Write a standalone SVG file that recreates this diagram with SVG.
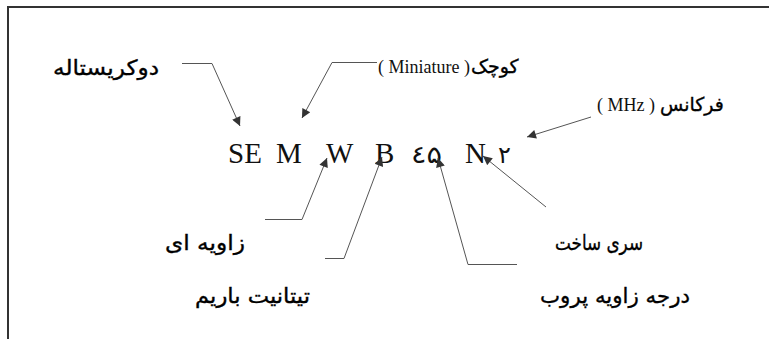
<svg xmlns="http://www.w3.org/2000/svg" width="769" height="339" viewBox="0 0 769 339">
<style>
.fa{font-family:"DejaVu Sans","Noto Sans",sans-serif;font-size:21px;fill:#000;stroke:#000;stroke-width:0.35}
.lat{font-family:"Liberation Serif","Times New Roman","Tinos","DejaVu Serif",serif;font-size:18px;fill:#111}
.big{font-family:"Liberation Serif","Times New Roman","Tinos","DejaVu Serif",serif;font-size:29px;fill:#111}
.dig{font-family:"DejaVu Sans",sans-serif;font-size:24px;fill:#111}
.ln{fill:none;stroke:#555;stroke-width:1}
</style>
<defs>
<marker id="arr" viewBox="0 0 10 10" refX="10" refY="5" markerWidth="11" markerHeight="9" markerUnits="userSpaceOnUse" orient="auto">
<path d="M0,0 L10,5 L0,10 z" fill="#333"/>
</marker>
</defs>
<rect width="769" height="339" fill="#fff"/>
<g id="frame">
<path d="M8,339 V7 H769" fill="none" stroke="#333" stroke-width="2"/>
</g>
<g id="code">
<text class="big" x="228" y="163">SE</text>
<text class="big" x="276" y="163">M</text>
<text class="big" x="326" y="163">W</text>
<text class="big" x="375" y="163">B</text>
<text class="dig" x="411" y="163" textLength="31" lengthAdjust="spacingAndGlyphs">٤۵</text>
<text class="big" x="465" y="163">N</text>
<text class="dig" x="498" y="163">٢</text>
</g>
<g id="n-dokristale">
<text class="fa" x="53" y="75" textLength="106" lengthAdjust="spacingAndGlyphs">دوکریستاله</text>
</g>
<g id="n-miniature">
<text class="lat" x="378" y="73">( Miniature )</text>
<text class="fa" x="471" y="73" style="font-size:19px">کوچک</text>
</g>
<g id="n-mhz">
<text class="lat" x="597" y="111">( MHz )</text>
<text class="fa" x="660" y="111" style="font-size:19px">فرکانس</text>
</g>
<g id="n-zavie">
<text class="fa" x="165" y="250" textLength="80" lengthAdjust="spacingAndGlyphs">زاویه ای</text>
</g>
<g id="n-titanat">
<text class="fa" x="195" y="303" textLength="115" lengthAdjust="spacingAndGlyphs">تیتانیت باریم</text>
</g>
<g id="n-seri">
<text class="fa" x="555" y="250" textLength="88" lengthAdjust="spacingAndGlyphs">سری ساخت</text>
</g>
<g id="n-daraje">
<text class="fa" x="540" y="303" textLength="150" lengthAdjust="spacingAndGlyphs">درجه زاویه پروب</text>
</g>
<g id="connectors">
<path class="ln" d="M182,63.5 H212 L240,126" marker-end="url(#arr)"/>
<path class="ln" d="M377,62.5 H332 L302,118" marker-end="url(#arr)"/>
<path class="ln" d="M591,117 L527,137" marker-end="url(#arr)"/>
<path class="ln" d="M265,219.5 H302 L327,158" marker-end="url(#arr)"/>
<path class="ln" d="M325,258.5 H344 L382,157" marker-end="url(#arr)"/>
<path class="ln" d="M517,264.5 H468 L438,158" marker-end="url(#arr)"/>
<path class="ln" d="M546,207 L483,156" marker-end="url(#arr)"/>
</g>
</svg>
